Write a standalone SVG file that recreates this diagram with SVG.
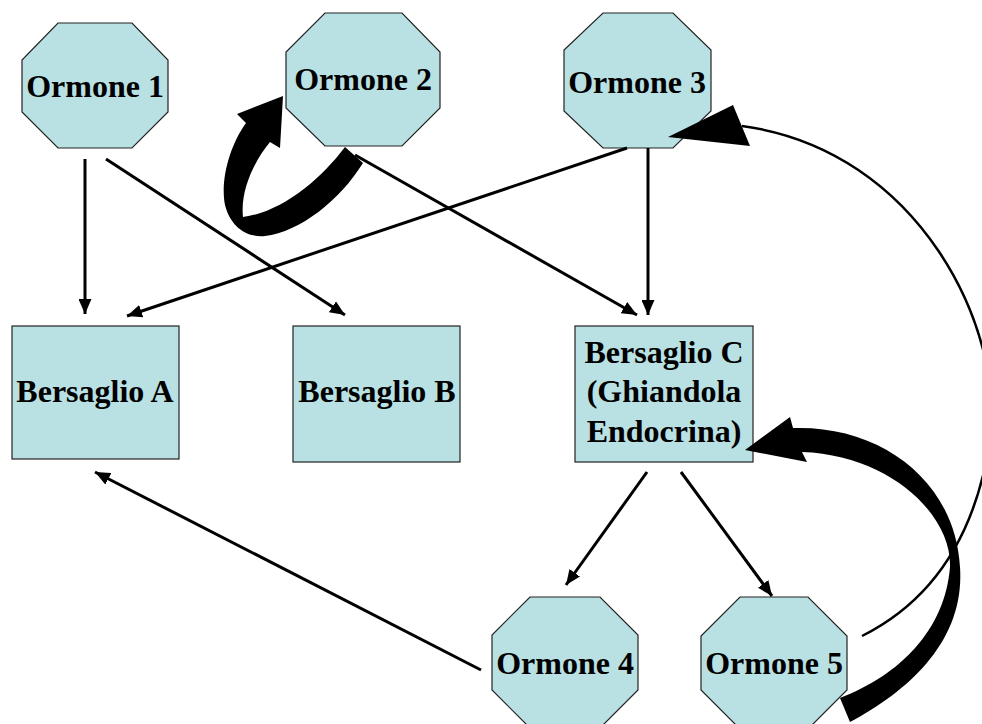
<svg xmlns="http://www.w3.org/2000/svg" width="982" height="724" viewBox="0 0 982 724">
<style>
.n{fill:#b9e0e3;stroke:#222;stroke-width:1.2}
.t{font-family:"Liberation Serif","Times New Roman",serif;font-weight:bold;font-size:32px;fill:#000;text-anchor:middle}
.l{stroke:#000;stroke-width:3;fill:none}
.th{fill:#000;stroke:none}
</style>
<defs>
<marker id="ah" markerUnits="userSpaceOnUse" markerWidth="16" markerHeight="13" refX="15" refY="6.5" orient="auto">
<path d="M0,0 L15,6.5 L0,13 z" fill="#000"/>
</marker>
</defs>
<rect width="982" height="724" fill="#fff"/>
<g id="ormone1"><polygon class="n" points="58,23 132,23 168,60 168,112 132,148 58,148 22,112 22,60"/><text class="t" x="95" y="97">Ormone 1</text></g>
<g id="ormone2"><polygon class="n" points="325,13 402,13 440,52 440,108 402,146 325,146 286,108 286,52"/><text class="t" x="363" y="90">Ormone 2</text></g>
<g id="ormone3"><polygon class="n" points="603,13 673,13 711,50 711,111 673,148 603,148 564,111 564,50"/><text class="t" x="637" y="93">Ormone 3</text></g>
<g id="bersaglioA"><rect class="n" x="12" y="326" width="167" height="133"/><text class="t" x="95" y="402">Bersaglio A</text></g>
<g id="bersaglioB"><rect class="n" x="293" y="326" width="167" height="136"/><text class="t" x="377" y="402">Bersaglio B</text></g>
<g id="bersaglioC"><rect class="n" x="575" y="326" width="178" height="136"/><text class="t" x="664" y="363">Bersaglio C</text><text class="t" x="664" y="402">(Ghiandola</text><text class="t" x="664" y="442">Endocrina)</text></g>
<g id="ormone4"><polygon class="n" points="530,597 600,597 638,635 638,690 600,728 530,728 492,690 492,635"/><text class="t" x="565" y="674">Ormone 4</text></g>
<g id="ormone5"><polygon class="n" points="740,597 808,597 847,636 847,690 808,729 740,729 701,690 701,636"/><text class="t" x="774" y="674">Ormone 5</text></g>
<g id="connectors">
<line class="l" x1="85" y1="159" x2="85" y2="314" marker-end="url(#ah)"/>
<line class="l" x1="106" y1="159" x2="345" y2="315" marker-end="url(#ah)"/>
<line class="l" x1="627" y1="148" x2="127" y2="316" marker-end="url(#ah)"/>
<line class="l" x1="355" y1="155" x2="637" y2="315" marker-end="url(#ah)"/>
<line class="l" x1="648" y1="148" x2="648" y2="315" marker-end="url(#ah)"/>
<line class="l" x1="481" y1="670" x2="95" y2="472" marker-end="url(#ah)"/>
<line class="l" x1="647" y1="472" x2="566" y2="585" marker-end="url(#ah)"/>
<line class="l" x1="681" y1="472" x2="772" y2="596" marker-end="url(#ah)"/>
<path class="th" d="M345,147 C320,180 282,212 243,217 C240,190 255,160 270,142 L280,148 L283,96 L237,114 L246,123 C230,145 220,180 225,205 C230,225 245,238 265,236 C300,232 340,200 363,163 Z"/>
<path class="th" d="M840,698 C900,675 945,630 950,567 C952,515 890,455 802,452 L807,462 L745,450 L790,417 L793,428 C880,425 955,480 960,567 C965,640 910,690 850,722 Z"/>
<path class="l" style="stroke-width:2.5" d="M862,636 C930,602 975,540 990,440 C1005,330 920,150 742,126"/>
<polygon class="th" points="668,137 733,105 750,146"/>
</g>
</svg>
